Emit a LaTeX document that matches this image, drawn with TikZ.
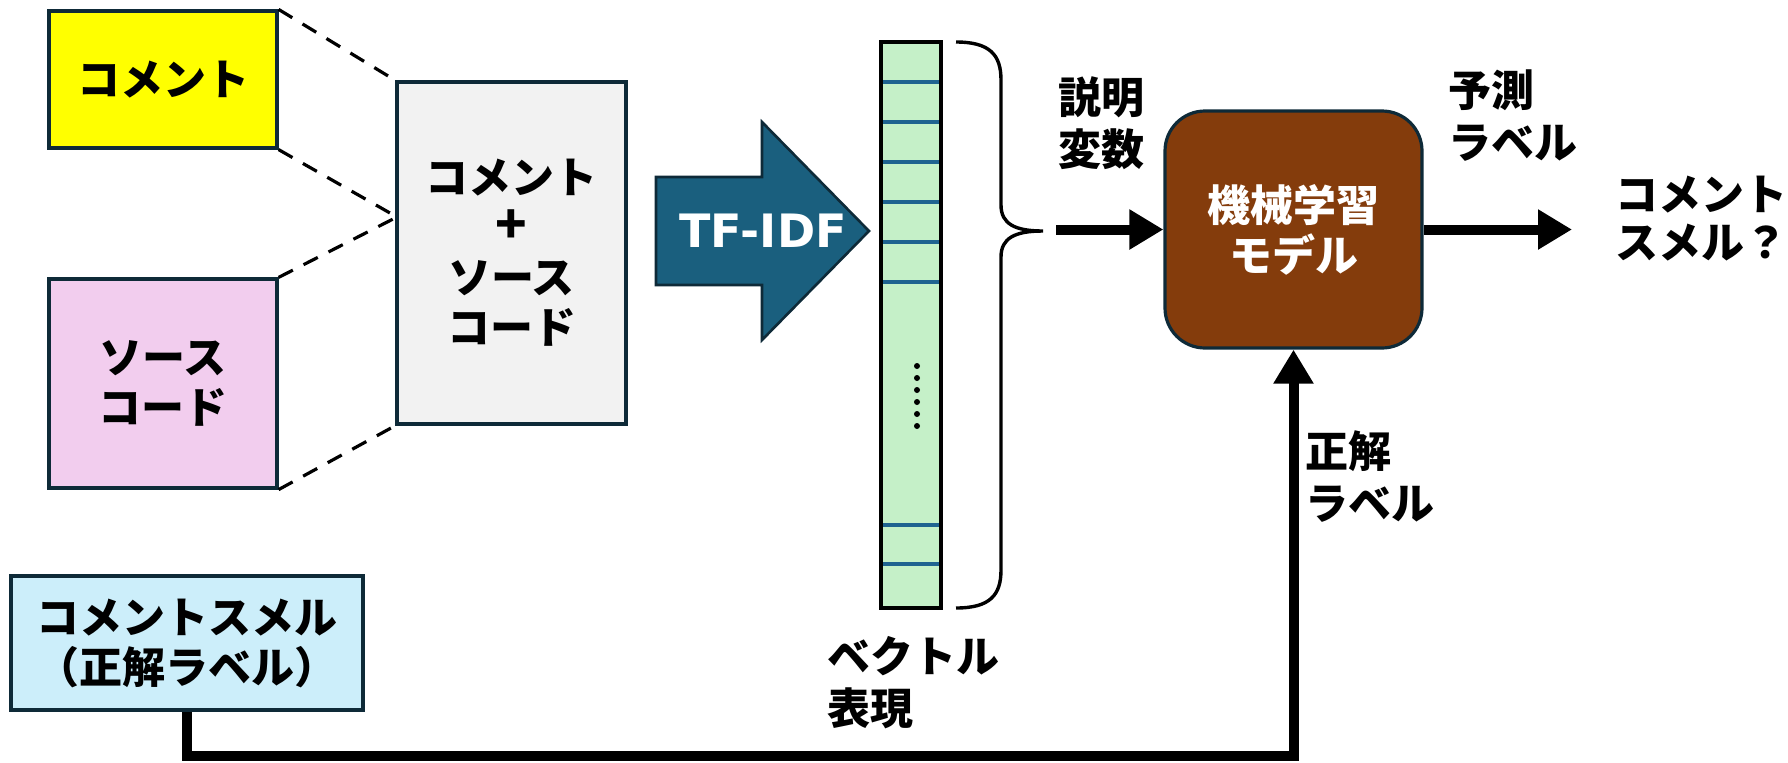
\documentclass[tikz,border=0pt]{standalone}
\usepackage{fontspec}
\setmainfont{Noto Sans CJK JP}
\newfontfamily\latinb{DejaVu Sans}
\usetikzlibrary{arrows.meta}
\definecolor{frame}{HTML}{0E2A38}
\definecolor{yel}{HTML}{FFFF00}
\definecolor{pinkb}{HTML}{F2CDEE}
\definecolor{grayb}{HTML}{F2F2F2}
\definecolor{arrowfill}{HTML}{1A5F7E}
\definecolor{barfill}{HTML}{C5F0C8}
\definecolor{barline}{HTML}{1F6390}
\definecolor{brown}{HTML}{843C0C}
\definecolor{lblue}{HTML}{CCEEFA}
\begin{document}
\begin{tikzpicture}[x=0.5pt,y=-0.5pt,
  lbl/.style={font=\fontsize{21.5}{26}\selectfont\bfseries, align=left, inner sep=0pt, anchor=west},
  bx/.style={draw=frame, line width=1.6pt, inner sep=0pt, font=\fontsize{21.5}{25}\selectfont\bfseries, align=center},
  dashline/.style={dash pattern=on 8pt off 6pt, line width=1.6pt},
  conn/.style={line width=5pt, -{Triangle[length=17pt,width=19pt]}},
  bline/.style={barline, line width=1.7pt}]
\useasboundingbox (0,0) rectangle (1788,762);

% left boxes
\node[bx, fill=yel, minimum width=114pt, minimum height=68.5pt] (com) at (163,79.5) {コメント};
\node[bx, fill=pinkb, minimum width=114pt, minimum height=104.5pt] (src) at (163,383.5) {ソース\\コード};
\node[bx, fill=grayb, minimum width=114.5pt, minimum height=171pt] (mix) at (511.5,253) {コメント\\{\fontsize{26}{25}\selectfont +}\\ソース\\コード};
\coordinate (mixl) at (397,217);
\draw[dashline] (com.north east) -- (mix.north west);
\draw[dashline] (com.south east) -- (mixl);
\draw[dashline] (src.north east) -- (mixl);
\draw[dashline] (src.south east) -- (mix.south west);

% TF-IDF arrow
\draw[fill=arrowfill, draw=frame, line width=1.3pt]
  (656,177) -- (762,177) -- (762,122) -- (869,231) -- (762,340) -- (762,285) -- (656,285) -- cycle;
\node[inner sep=0pt, text=white, font=\latinb\fontsize{23}{25}\selectfont\bfseries] (tfidf) at (763,231) {TF-IDF};

% vector bar
\node[draw=black, line width=1.6pt, fill=barfill, minimum width=30pt, minimum height=283pt, inner sep=0pt] (vec) at (911,325) {};
\foreach \yy in {82,122,162,202,242,282,525,564}
  \draw[bline] (883,\yy) -- (939,\yy);
\foreach \yy in {366,378,390,402,414,426}
  \fill (917,\yy) circle (3);
\node[lbl] (veclbl) at (827,683) {ベクトル\\表現};

% brace
\coordinate (tip) at (1043,231);
\draw[line width=1.7pt] (956,42) .. controls (990,42) and (1001,55) .. (1001,80) -- (1001,205)
  .. controls (1001,224) and (1015,231) .. (tip)
  .. controls (1015,231) and (1001,238) .. (1001,257) -- (1001,570)
  .. controls (1001,595) and (990,608) .. (956,608);

% ML model
\node[bx, fill=brown, text=white, rounded corners=20pt, minimum width=128.5pt, minimum height=118.5pt] (ml) at (1293.5,229.5) {機械学習\\モデル};
\coordinate (a1) at (1056,229.5);
\draw[conn] (a1) -- (ml.west);
\node[lbl] (expl) at (1058,123) {説明\\変数};
\node[lbl] (pred) at (1448,116) {予測\\ラベル};
\coordinate (out) at (1572,229.5);
\draw[conn] (ml.east) -- (out);
\node[lbl, font=\fontsize{21.5}{24}\selectfont\bfseries] (res) at (1615,219) {コメント\\スメル？};

% ground truth
\node[bx, fill=lblue, minimum width=176pt, minimum height=67pt] (smell) at (187,643) {コメントスメル\\（正解ラベル）};
\draw[conn] (smell.south) -- ++(0,44) -| (ml.south);
\node[lbl] (gt) at (1305,477) {正解\\ラベル};
\end{tikzpicture}
\end{document}
